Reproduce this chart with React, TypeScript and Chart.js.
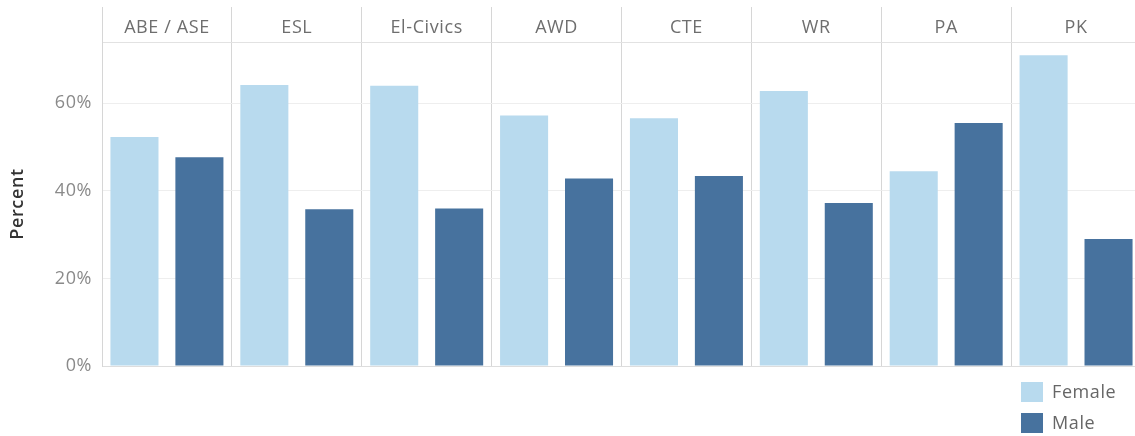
import React, { useEffect, useRef } from "react";
import { Chart, registerables } from "chart.js";

Chart.register(...registerables);

const categories = ["ABE / ASE", "ESL", "El-Civics", "AWD", "CTE", "WR", "PA", "PK"];
const genders = ["Female", "Male"];
const femaleValues = [52.3, 64.2, 64.0, 57.2, 56.6, 62.8, 44.5, 71.0];
const maleValues = [47.7, 35.8, 36.0, 42.8, 43.4, 37.2, 55.5, 29.0];
const yTicks = [0, 20, 40, 60];

const FEMALE_COLOR = "#b8daee";
const MALE_COLOR = "#47729e";
const FONT = "'Open Sans', sans-serif";
const SPACING = "0.6px";

const spacingPlugin = {
  id: "letterSpacing",
  beforeUpdate(chart: any) {
    chart.ctx.letterSpacing = SPACING;
  },
  beforeDraw(chart: any) {
    chart.ctx.letterSpacing = SPACING;
  },
};

const legendPlugin = {
  id: "sideLegend",
  afterDraw(chart: any) {
    const { ctx, chartArea } = chart;
    const x = 1021;
    let y = chartArea.bottom + 16;
    ctx.save();
    ctx.letterSpacing = SPACING;
    chart.data.datasets.forEach((ds: any) => {
      ctx.fillStyle = ds.backgroundColor;
      ctx.fillRect(x, y, 22, 20);
      ctx.fillStyle = "#666666";
      ctx.font = `18px ${FONT}`;
      ctx.textBaseline = "middle";
      ctx.textAlign = "left";
      ctx.fillText(ds.label, x + 31, y + 11);
      y += 31;
    });
    ctx.restore();
  },
};

export default function App() {
  const ref = useRef<HTMLCanvasElement | null>(null);

  useEffect(() => {
    if (!ref.current) return;
    const labels: string[] = [];
    const fData: (number | null)[] = [];
    const mData: (number | null)[] = [];
    categories.forEach((c, i) => {
      genders.forEach((g) => labels.push(`${c} ${g}`));
      fData.push(femaleValues[i], null);
      mData.push(null, maleValues[i]);
    });

    const chart = new Chart(ref.current, {
      type: "bar",
      data: {
        labels,
        datasets: [
          { label: "Female", data: fData, backgroundColor: FEMALE_COLOR },
          { label: "Male", data: mData, backgroundColor: MALE_COLOR },
        ],
      },
      plugins: [spacingPlugin, legendPlugin],
      options: {
        animation: false,
        responsive: true,
        maintainAspectRatio: false,
        layout: { padding: { top: 7, bottom: 70, left: 0, right: 0 } },
        datasets: {
          bar: { grouped: false, barPercentage: 0.74, categoryPercentage: 1 },
        },
        plugins: {
          legend: { display: false },
          tooltip: { enabled: false },
        },
        scales: {
          x: {
            type: "category",
            position: "bottom",
            ticks: { display: false },
            grid: { display: false, drawTicks: false },
            border: { display: true, color: "#dddddd" },
            afterFit: (s: any) => {
              s.height = 0;
            },
          },
          x2: {
            type: "category",
            labels: categories,
            position: "top",
            offset: true,
            grid: {
              offset: true,
              color: "#d6d6d6",
              lineWidth: 1,
              tickLength: 35,
              drawOnChartArea: true,
            },
            border: { display: true, color: "#e2e2e2" },
            ticks: {
              color: "#6e6e6e",
              font: { family: FONT, size: 18 },
              padding: -32,
              maxRotation: 0,
              autoSkip: false,
            },
            afterFit: (s: any) => {
              s.height = 35;
            },
          },
          y: {
            min: 0,
            max: 74,
            afterBuildTicks: (s: any) => {
              s.ticks = yTicks.map((v) => ({ value: v }));
            },
            ticks: {
              color: "#8a8a8a",
              font: { family: FONT, size: 18 },
              padding: 10,
              callback: (v: any) => `${v}%`,
            },
            grid: { color: "#eeeeee", drawTicks: false },
            border: { display: true, color: "#d6d6d6" },
            title: {
              display: true,
              text: "Percent",
              color: "#333333",
              font: { family: FONT, size: 18, weight: "600" },
              padding: { top: 7, bottom: 0 },
            },
            afterFit: (s: any) => {
              s.width = 102;
            },
          },
        },
      },
    });
    return () => chart.destroy();
  }, []);

  return (
    <div
      style={{
        position: "fixed",
        left: 0,
        top: 0,
        width: 1135,
        height: 436,
        overflow: "hidden",
        background: "#ffffff",
      }}
    >
      <div style={{ width: 1141, height: 436, position: "relative" }}>
        <canvas ref={ref} />
      </div>
    </div>
  );
}
